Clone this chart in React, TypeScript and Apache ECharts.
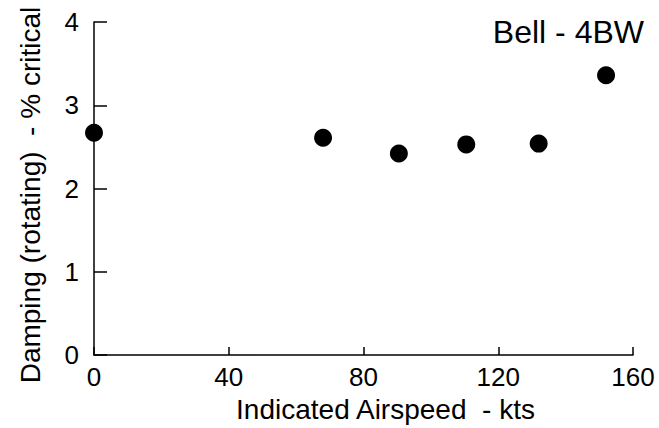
import React, { useEffect, useRef } from "react";
import * as echarts from "echarts";

const airspeed = [0, 68, 90.5, 110.5, 132, 152];
const damping = [2.67, 2.61, 2.42, 2.53, 2.54, 3.36];
const xTicks = [0, 40, 80, 120, 160];
const yTicks = [0, 1, 2, 3, 4];
const chartTitle = "Bell - 4BW";
const xTitle = "Indicated Airspeed  - kts";
const yTitle = "Damping (rotating)  - % critical";

const FONT = "'Liberation Sans', Arial, Helvetica, sans-serif";

export default function App() {
  const ref = useRef<HTMLDivElement>(null);
  useEffect(() => {
    if (!ref.current) return;
    const chart = echarts.init(ref.current, null, { renderer: "svg" });
    const points = airspeed.map((x, i) => [x, damping[i]]);
    chart.setOption({
      animation: false,
      backgroundColor: "#ffffff",
      textStyle: { fontFamily: FONT },
      title: {
        text: chartTitle,
        right: 10,
        top: 11,
        textStyle: { fontFamily: FONT, fontSize: 32, fontWeight: "normal", color: "#000" },
      },
      grid: { left: 94, right: 26, top: 22, bottom: 59, containLabel: false },
      xAxis: {
        type: "value",
        min: xTicks[0],
        max: xTicks[xTicks.length - 1],
        interval: 40,
        name: xTitle,
        nameLocation: "middle",
        nameGap: 31,
        nameTextStyle: { fontFamily: FONT, fontSize: 28, color: "#000", padding: [0, 0, 0, 44] },
        axisLine: { show: true, lineStyle: { color: "#000", width: 1.5 } },
        axisTick: { show: true, inside: true, length: 8, lineStyle: { color: "#000", width: 1.5 } },
        axisLabel: { fontFamily: FONT, fontSize: 26, color: "#000", margin: 9 },
        splitLine: { show: false },
      },
      yAxis: {
        type: "value",
        min: yTicks[0],
        max: yTicks[yTicks.length - 1],
        interval: 1,
        name: yTitle,
        nameLocation: "middle",
        nameGap: 50,
        nameTextStyle: { fontFamily: FONT, fontSize: 28, color: "#000", padding: [0, 13, 0, 0] },
        axisLine: { show: true, lineStyle: { color: "#000", width: 1.5 } },
        axisTick: { show: true, inside: true, length: 13, lineStyle: { color: "#000", width: 1.5 } },
        axisLabel: { fontFamily: FONT, fontSize: 26, color: "#000", margin: 15 },
        splitLine: { show: false },
      },
      series: [
        {
          type: "scatter",
          data: points,
          symbol: "circle",
          symbolSize: 18,
          itemStyle: { color: "#000", opacity: 1 },
        },
      ],
    });
    return () => chart.dispose();
  }, []);
  return <div ref={ref} style={{ width: 659, height: 428, position: "absolute", left: 0, top: 0 }} />;
}
